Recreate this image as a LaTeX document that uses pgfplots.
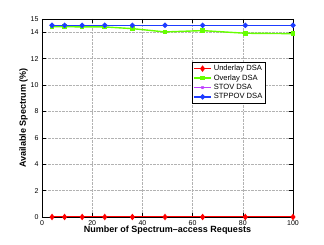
\documentclass[border=0pt]{standalone}
\usepackage{pgfplots}
\pgfplotsset{compat=1.18}
\usepackage{fontspec}
\setmainfont{Liberation Sans}
\begin{document}
\begin{tikzpicture}
\path[use as bounding box] (-42pt,-28pt) rectangle (282pt,217pt);
\begin{axis}[
  at={(0,0)}, anchor=south west,
  scale only axis,
  width=251pt, height=198pt,
  xmin=0, xmax=100, ymin=0, ymax=15,
  xtick={0,20,...,100}, ytick={0,2,...,14,15},
  grid=major,
  grid style={densely dotted, gray!60},
  tick align=inside,
  tick style={black, thin},
  /pgf/number format/assume math mode=true,
  tick label style={font=\fontsize{7}{8}\selectfont},
  xlabel={\bfseries Number of Spectrum\textendash access Requests},
  ylabel={\bfseries Available Spectrum (\%)},
  label style={font=\fontsize{9}{10}\selectfont},
  xlabel style={yshift=6pt},
  ylabel style={yshift=-4pt},
  legend style={at={(0.598,0.783)}, anchor=north west, font=\fontsize{7.6}{8.5}\selectfont, draw=black, inner sep=1pt, row sep=-1.5pt},
  legend cell align=left,
  every axis plot/.append style={line width=1.4pt},
]
\addplot[red, mark=diamond*, mark size=2.2pt] coordinates {(4,0)(9,0)(16,0)(25,0)(36,0)(49,0)(64,0)(81,0)(100,0)};
\addlegendentry{Underlay DSA}
\addplot[color={rgb,255:red,102;green,255;blue,0}, mark=square*, mark size=1.6pt] coordinates {(4,14.42)(9,14.42)(16,14.40)(25,14.40)(36,14.27)(49,14.02)(64,14.12)(81,13.92)(100,13.89)};
\addlegendentry{Overlay DSA}
\addplot[color={rgb,255:red,191;green,64;blue,255}, mark=x, mark size=1.5pt] coordinates {(4,14.49)(9,14.49)(16,14.49)(25,14.49)(36,14.49)(49,14.49)(64,14.49)(81,14.49)(100,14.49)};
\addlegendentry{STOV DSA}
\addplot[color={rgb,255:red,30;green,60;blue,255}, mark=*, mark size=1.9pt] coordinates {(4,14.52)(9,14.52)(16,14.52)(25,14.52)(36,14.52)(49,14.52)(64,14.52)(81,14.52)(100,14.52)};
\addlegendentry{STPPOV DSA}
\end{axis}
\end{tikzpicture}
\end{document}
